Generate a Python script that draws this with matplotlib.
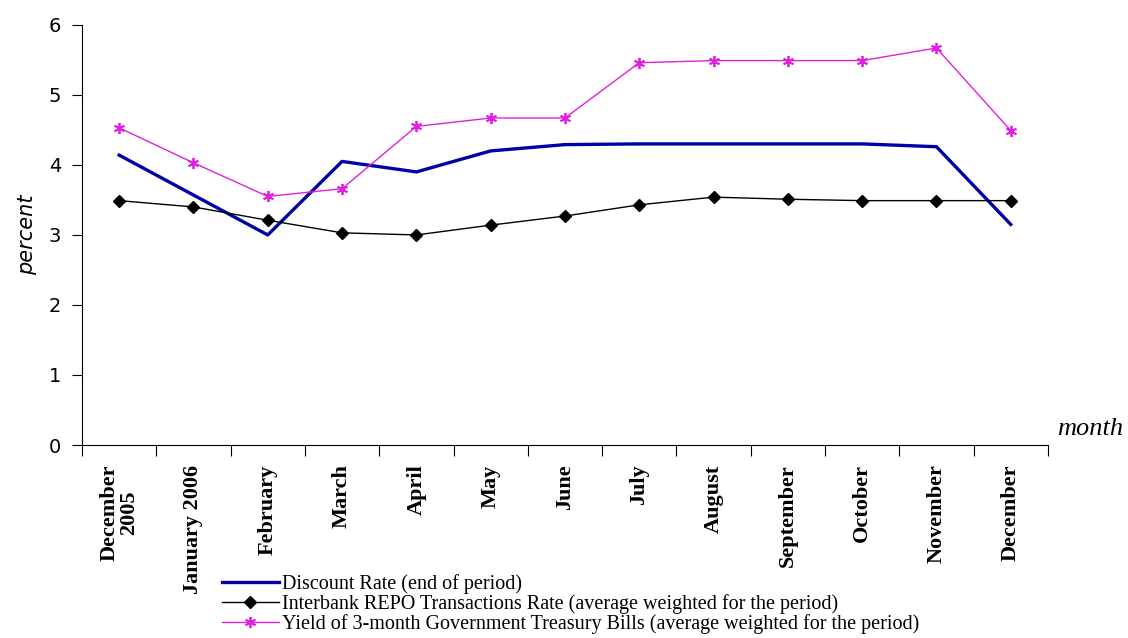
import matplotlib.pyplot as plt
import numpy as np

# dados
months = ['December\n2005', 'January 2006', 'February', 'March', 'April', 'May',
          'June', 'July', 'August', 'September', 'October', 'November', 'December']
discount = [4.14, 3.57, 3.0, 4.05, 3.9, 4.2, 4.29, 4.3, 4.3, 4.3, 4.3, 4.26, 3.15]
repo = [3.49, 3.40, 3.21, 3.03, 3.0, 3.14, 3.27, 3.43, 3.54, 3.51, 3.49, 3.49, 3.49]
tbills = [4.53, 4.03, 3.55, 3.66, 4.55, 4.67, 4.67, 5.46, 5.49, 5.49, 5.49, 5.67, 4.49]

fig = plt.figure(figsize=(11.28, 6.38), dpi=100)
ax = fig.add_axes([0.0727, 0.3025, 0.8563, 0.6585])

x = np.arange(len(months))
ax.plot(x, discount, color='#0000a8', lw=2.4, label='Discount Rate (end of period)')
ax.plot(x, repo, color='black', lw=1.0, marker='D', ms=6.5,
        label='Interbank REPO Transactions Rate (average weighted for the period)')
ax.plot(x, tbills, color='#e020e0', lw=1.0, marker=(6, 2, 0), ms=8, mew=1.3,
        label='Yield of 3-month Government Treasury Bills (average weighted for the period)')

ax.set_xlim(-0.5, len(months) - 0.5)
ax.set_ylim(0, 6)
ax.set_yticks(range(0, 7))
ax.tick_params(axis='y', labelsize=14, length=7, direction='out', pad=8)
# ticks entre as categorias, rotulos no centro
ax.set_xticks(np.arange(-0.5, len(months)), minor=False)
ax.set_xticklabels([])
ax.set_xticks(x, minor=True)
ax.set_xticklabels(months, minor=True, rotation=90, fontfamily='Liberation Serif',
                   fontweight='bold', fontsize=16, va='top', ha='center', linespacing=0.95)
ax.tick_params(axis='x', which='major', length=8, direction='out')
ax.tick_params(axis='x', which='minor', length=0, pad=14)
for s in ['top', 'right']:
    ax.spines[s].set_visible(False)

ax.set_ylabel('percent', fontstyle='italic', fontsize=15, labelpad=8)
fig.text(0.937, 0.318, 'month', fontfamily='Liberation Serif', fontstyle='italic', fontsize=19)

fig.legend(loc='upper left', bbox_to_anchor=(0.188, 0.116), frameon=False,
           prop={'family': 'Liberation Serif', 'size': 14.5}, handlelength=2.8,
           handletextpad=0.15, labelspacing=0.0, borderpad=0)

plt.savefig('out.png')
